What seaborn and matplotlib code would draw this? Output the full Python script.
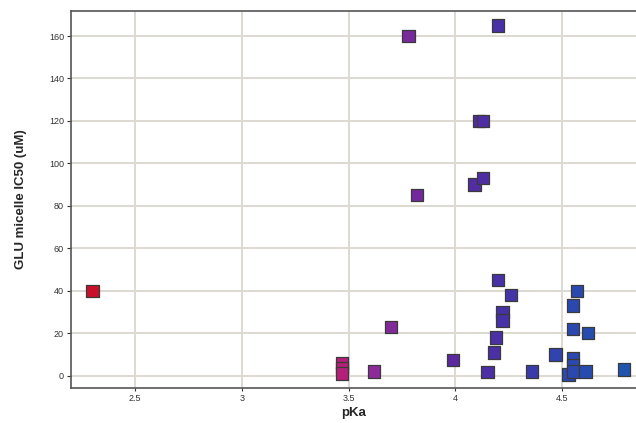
import pandas as pd
import seaborn as sns
import matplotlib.pyplot as plt
from matplotlib.colors import LinearSegmentedColormap, Normalize

# values
pka = [2.30, 3.47, 3.47, 3.47, 3.62, 3.70, 3.78, 3.82, 3.99, 4.09,
       4.11, 4.13, 4.13, 4.15, 4.18, 4.19, 4.20, 4.20, 4.22, 4.22,
       4.26, 4.36, 4.47, 4.53, 4.55, 4.55, 4.55, 4.55, 4.55, 4.57,
       4.61, 4.62, 4.79]
ic50 = [40, 6, 3.5, 1, 2, 23, 160, 85, 7.5, 90,
        120, 120, 93, 1.6, 11, 18, 165, 45, 30, 26,
        38, 2, 10, 0.6, 33, 22, 8.4, 5, 2, 40,
        2, 20, 3]
x_ticks = [2.5, 3, 3.5, 4, 4.5]
x_tick_labels = ["2.5", "3", "3.5", "4", "4.5"]
y_ticks = [0, 20, 40, 60, 80, 100, 120, 140, 160]

df = pd.DataFrame({"pKa": pka, "IC50": ic50})

sns.set_style("white")
plt.rcParams["font.family"] = ["Liberation Sans", "DejaVu Sans"]

cmap = LinearSegmentedColormap.from_list("pka", [
    (0.0, "#c8102a"),
    (0.47, "#b61f7a"),
    (0.53, "#8e2a9a"),
    (0.68, "#5a28a0"),
    (0.76, "#4830a6"),
    (0.90, "#2a48b0"),
    (1.0, "#1f56b0"),
])

fig = plt.figure(figsize=(6.36, 4.23), dpi=100)
ax = fig.add_axes([0.1116, 0.0828, 0.8884, 0.8912])

sns.scatterplot(data=df, x="pKa", y="IC50", hue="pKa", palette=cmap,
                hue_norm=Normalize(2.3, 4.8), marker="s", s=80,
                edgecolor="#3a3a3a", linewidth=0.9, legend=False,
                ax=ax, zorder=3)

ax.set_xlim(2.20, 4.846)
ax.set_ylim(-5.8, 171.8)
ax.set_xticks(x_ticks)
ax.set_xticklabels(x_tick_labels)
ax.set_yticks(y_ticks)

ax.grid(True, color="#ddd8d2", linewidth=1.4, zorder=0)
ax.set_axisbelow(True)

for side in ["left", "bottom", "top"]:
    ax.spines[side].set_color("#555555")
    ax.spines[side].set_linewidth(1.2)
ax.spines["right"].set_visible(False)

ax.tick_params(axis="both", labelsize=6.5, colors="#333333", length=3,
               width=0.8, pad=2, direction="out", bottom=True, left=True)
ax.tick_params(axis="x", length=2)

ax.set_xlabel("pKa", fontsize=9.5, fontweight="bold", labelpad=3)
ax.set_ylabel("GLU micelle IC50 (uM)", fontsize=9.5, fontweight="bold",
              labelpad=16)

fig.savefig("out.png", dpi=100)
